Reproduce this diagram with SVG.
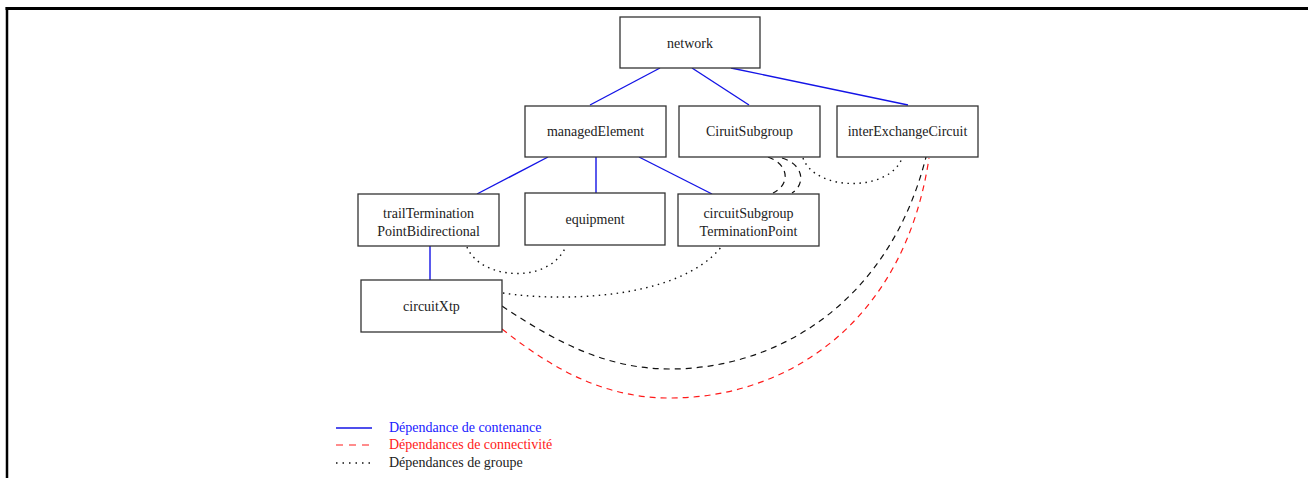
<svg xmlns="http://www.w3.org/2000/svg" width="1308" height="478" viewBox="0 0 1308 478">
<style>
.box{fill:#fff;stroke:#333;stroke-width:1.3}
.t{font-family:"Liberation Serif","Times New Roman",serif;font-size:14px;fill:#222;text-anchor:middle}
.lt{font-family:"Liberation Serif","Times New Roman",serif;font-size:14px}
.cont{stroke:#1414e6;stroke-width:1.4;fill:none}
.conn{stroke:#ff1a1a;stroke-width:1.2;fill:none;stroke-dasharray:6 5}
.dash{stroke:#111;stroke-width:1.2;fill:none;stroke-dasharray:6 5}
.grp{stroke:#111;stroke-width:1.4;fill:none;stroke-dasharray:1.5 4.5}
</style>
<rect width="1308" height="478" fill="#fff"/>
<g id="frame">
<line x1="5.5" y1="8.5" x2="1308" y2="8.5" stroke="#000" stroke-width="3"/>
<line x1="7" y1="7" x2="7" y2="478" stroke="#000" stroke-width="2.5"/>
</g>
<g id="connectors">
<line class="cont" x1="660" y1="68" x2="590" y2="105"/>
<line class="cont" x1="692" y1="68" x2="749" y2="105"/>
<line class="cont" x1="731" y1="68" x2="908" y2="105"/>
<line class="cont" x1="548" y1="157" x2="477" y2="194"/>
<line class="cont" x1="596" y1="157" x2="596" y2="193"/>
<line class="cont" x1="639" y1="157" x2="712" y2="194"/>
<line class="cont" x1="430" y1="246" x2="430" y2="280"/>
<path class="grp" d="M467,247 C480,280 550,285 566,246"/>
<path class="grp" d="M503,293 C560,302 680,300 722,246"/>
<path class="grp" d="M803,158 C815,192 890,192 902,158"/>
<path class="dash" d="M768,157 C790,165 790,185 773,193"/>
<path class="dash" d="M782,158 C805,165 805,185 792,193"/>
<path class="dash" d="M502,306 C560,345 610,369 670,369 C780,369 890,300 926,157"/>
<path class="conn" d="M502,329 C560,375 610,398 670,398 C790,398 905,320 929,158"/>
</g>
<g id="network"><rect class="box" x="620" y="17" width="140" height="51"/><text class="t" x="690" y="48">network</text></g>
<g id="managedElement"><rect class="box" x="525" y="106" width="141" height="51"/><text class="t" x="595.5" y="136">managedElement</text></g>
<g id="CiruitSubgroup"><rect class="box" x="679" y="106" width="141" height="51"/><text class="t" x="749.5" y="136">CiruitSubgroup</text></g>
<g id="interExchangeCircuit"><rect class="box" x="837" y="106" width="141" height="51"/><text class="t" x="907.5" y="136">interExchangeCircuit</text></g>
<g id="trailTerminationPointBidirectional"><rect class="box" x="358" y="194" width="141" height="52"/><text class="t" x="428.5" y="218">trailTermination</text><text class="t" x="428.5" y="236">PointBidirectional</text></g>
<g id="equipment"><rect class="box" x="525" y="193" width="140" height="52"/><text class="t" x="595" y="224">equipment</text></g>
<g id="circuitSubgroupTerminationPoint"><rect class="box" x="678" y="194" width="141" height="52"/><text class="t" x="748.5" y="218">circuitSubgroup</text><text class="t" x="748.5" y="236">TerminationPoint</text></g>
<g id="circuitXtp"><rect class="box" x="361" y="280" width="141" height="52"/><text class="t" x="431.5" y="311">circuitXtp</text></g>
<g id="legend">
<line x1="336" y1="428" x2="372" y2="428" stroke="#1414e6" stroke-width="1.4"/>
<text class="lt" x="389" y="432" fill="#2020ff">Dépendance de contenance</text>
<line x1="336" y1="445" x2="372" y2="445" stroke="#ff1a1a" stroke-width="1.2" stroke-dasharray="7 6"/>
<text class="lt" x="389" y="449" fill="#ff1a1a">Dépendances de connectivité</text>
<line x1="336" y1="463" x2="372" y2="463" stroke="#111" stroke-width="1.3" stroke-dasharray="1.5 5"/>
<text class="lt" x="389" y="467" fill="#222">Dépendances de groupe</text>
</g>
</svg>
